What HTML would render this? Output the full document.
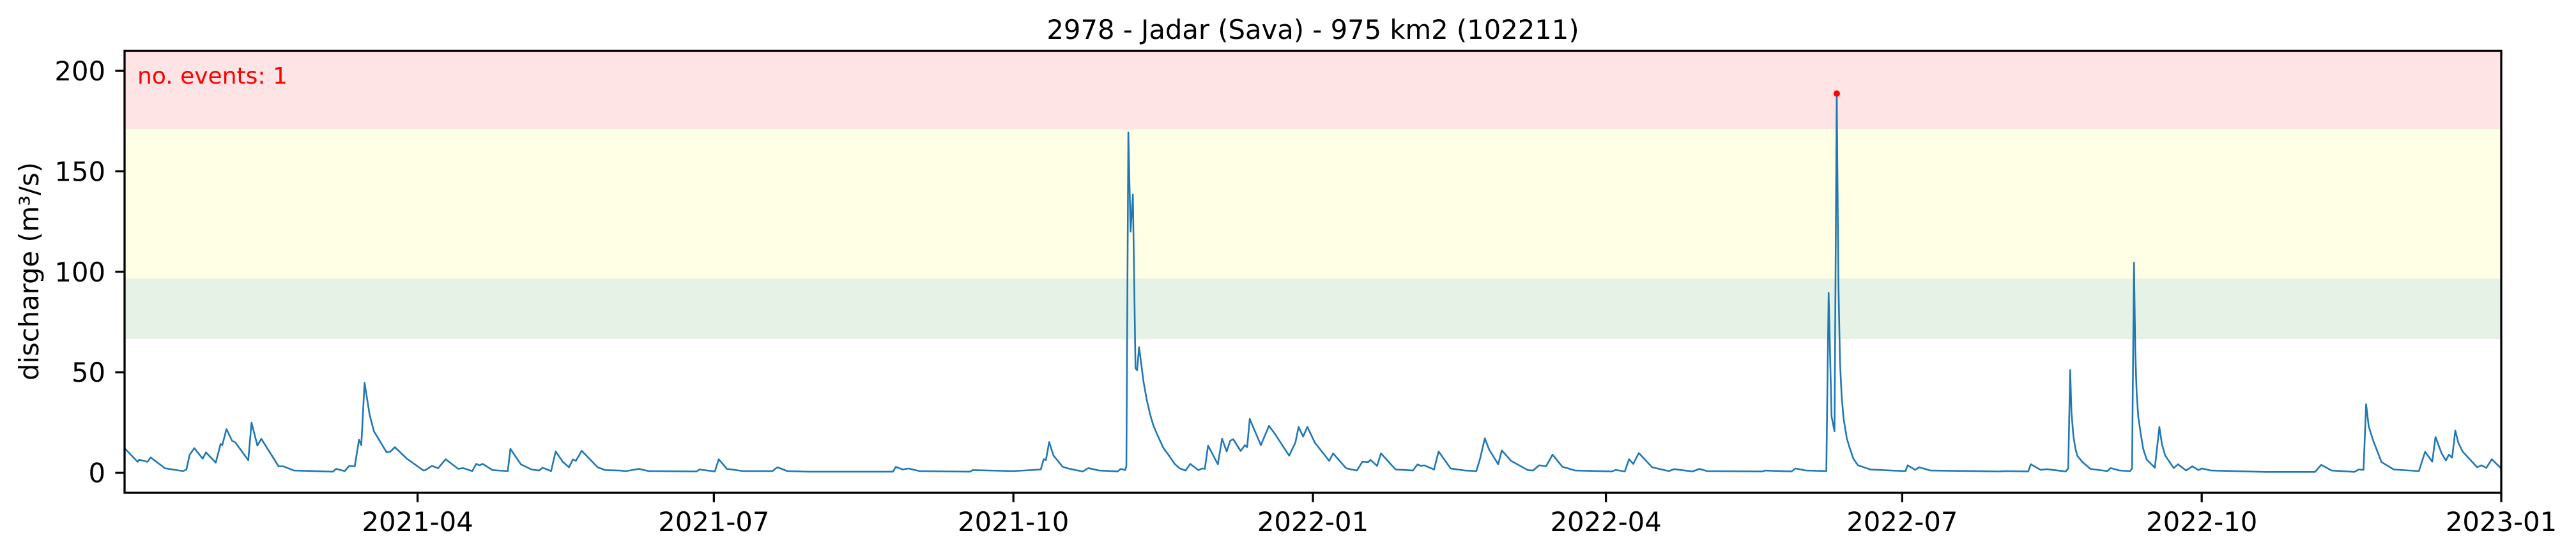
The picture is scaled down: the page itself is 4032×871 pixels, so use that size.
<!DOCTYPE html>
<html><head><meta charset="utf-8"><style>
html,body{margin:0;padding:0;background:#fff;}
svg{display:block;font-family:"DejaVu Sans","Liberation Sans",sans-serif;}
</style></head><body>
<svg id="chart" width="4032" height="871" viewBox="0 0 4032 871" xmlns="http://www.w3.org/2000/svg">
<text x="2055" y="61" font-size="41.7" text-anchor="middle">2978 - Jadar (Sava) - 975 km2 (102211)</text>
<g id="bands"></g>
<g id="series"></g>
<rect x="195" y="79.5" width="3720" height="692.5" fill="none" stroke="#000" stroke-width="3.3"/>
<g id="yaxis"></g>
<g id="xaxis"></g>
<text transform="translate(60,425) rotate(-90)" font-size="41.7" text-anchor="middle">discharge (m³/s)</text>
<text x="215" y="131" font-size="36" fill="#ff0000">no. events: 1</text>
</svg>
<script>
const dayOffsets = [0,4,4.5,7,8,12.4,18,19,20,21.4,24,25,28,29.5,30,31.3,33,34,38,39,40.8,42,47.3,48.7,52,64,65,67.6,69,70.7,72,72.7,73.7,75.3,76.6,80.5,81.7,83,86.7,91.8,92.4,94.4,96.3,98.6,102.5,104,106.8,108,109,110,113,117.7,118.5,121.7,125,127.3,128.4,131,132.4,134.6,136.5,137.7,138.6,140.4,145.3,147.6,152,154,158,161,175.7,176.6,181.3,182.5,185,190,199,200.5,203.6,210,236,236.9,239,240.8,244.2,259.7,260.5,273,281.4,282.3,283,284,285.3,288.1,289.8,294.3,296,299.4,305,306,307.3,307.7,308.3,309,309.7,310.5,311,311.6,313,314,315,316,317.4,319,320.8,322.5,324,325.9,327.3,329.8,331,331.8,332.8,335.8,337.1,338.5,339.6,340.5,342.8,344.1,344.8,345.6,349,351.5,353.2,357.7,358.8,359.6,360.6,362,363.3,365.6,370,371.2,375.2,378.5,380.2,382,382.7,384.7,385.9,390.4,392.6,395.7,397.1,398.3,399.2,402.2,403.6,407.3,411.8,415.2,416.3,417.8,419.1,421.9,423,425.9,431,432.6,434.5,436.6,438.6,441,441.6,445.6,456.8,458,460.8,462.1,463.4,465.1,469.2,474.3,476,481.6,483.7,486.1,503,503.9,512,513.2,516.5,522.7,523.4,524.3,525.2,525.9,526.4,526.9,527.4,528,529,529.8,531,532.4,536.2,542.6,547,547.7,550,551.2,554.7,575.8,577.7,584.7,585.5,588.5,590.4,596.2,597,597.6,598,598.6,599.2,599.8,601.3,603.8,609,610,612.8,616,616.6,617.2,617.6,618,618.5,619.2,620,621.1,623.6,625,625.8,626.8,629.4,630.7,633.2,635.1,637,638,640.9,657.5,672.8,674.7,677.9,684.9,686.2,687.7,688.5,689.3,690.7,693.2,697,704.7,706.6,708.8,709.8,711.7,713,713.9,714.9,715.9,716.8,718.1,722.6,723.9,725.4,727.1,730];
const discharge = [12.2,5.4,6.5,5.4,7.6,2.2,0.8,1.6,9,12.2,7,10.1,5,14.3,13.7,21.7,15.9,15.1,6.2,24.9,13.5,16.9,3.2,3.2,1.1,0.5,1.9,0.8,3.4,3.2,16.4,13.7,44.7,28.6,20.6,10.1,10.6,12.7,7,1.1,1.3,3.4,2.2,6.7,1.9,2.3,0.8,4.4,3.7,4.4,1.3,0.8,11.9,4.2,1.6,1.1,2.5,0.8,10.6,5.4,2.7,6.6,5.9,10.9,2.7,1.3,1.1,0.8,1.9,0.8,0.6,1.6,0.6,6.7,1.9,0.8,0.8,2.7,0.8,0.5,0.5,2.9,1.6,2.1,0.8,0.5,1.3,0.8,1.6,6.7,6.3,15.3,8.6,3,2.1,0.6,2.3,1.1,0.6,1.9,1.3,3,169.3,120,138.4,52,51,62.5,45,36,29,23.5,18.2,12.5,8.5,4.5,2.2,1.1,4.4,1.3,2.1,1.9,13.5,4.2,16.9,10.6,15.9,16.7,10.8,13.7,12.7,26.8,13.7,23.3,19.6,8.5,12.2,14.9,22.8,18,22.8,14.9,5.9,9.6,2.2,1.1,5.5,5.3,6.4,3.4,9.6,1.6,1.4,1.1,4.1,3.4,3.7,1.6,10.6,2.1,1.1,0.8,6.7,17.1,11.6,4.2,11.1,5.9,1.3,1.1,3.7,3.2,9,4.2,3,1.1,0.6,1.4,0.6,6.7,4.4,9.8,2.7,0.8,1.8,0.6,1.9,0.8,0.6,1.1,0.6,2.1,1.1,0.8,89.5,28,20.6,188.7,95,55,38,27,17,12.7,7,3.7,1.6,1.1,0.8,3.7,1.4,2.7,1.1,0.6,0.8,0.6,4.2,1.4,1.8,0.6,2.1,51.1,30,18,12,8.4,5.4,1.9,0.8,2.3,1.1,0.8,2.1,104.5,60,40,28,20,12,6.5,2.5,22.8,14,8.5,2.3,4.2,1.1,3.2,1.3,2.1,1.1,0.4,0.4,3.9,1.1,0.4,1.6,1.4,34.1,23,15.9,5.3,1.6,0.8,10.4,5.5,17.8,9.6,6.1,9,7.5,21,15,10.6,2.7,3.7,2.4,6.7,2.1];
const eventDays = [525.9];
const eventValues = [188.7];
const yTickValues = [0,50,100,150,200];
const yTickLabels = ["0","50","100","150","200"];
const xTickDays = [90,181,273,365,455,546,638,730];
const xTickLabels = ["2021-04","2021-07","2021-10","2022-01","2022-04","2022-07","2022-10","2023-01"];
const bandLower = [66.5,96.6,171];
const bandUpper = [96.6,171,210];
const bandColors = ["#e6f2e6","#ffffe6","#ffe4e6"];
const bandNames = ["band-low","band-medium","band-high"];

const NS="http://www.w3.org/2000/svg";
const X0=195,X1=3915,Y0=79.5,Y1=772,DMIN=0,DMAX=730,VMIN=-10,VMAX=210;
function xScale(d){return X0+(d-DMIN)/(DMAX-DMIN)*(X1-X0);}
function yScale(v){return Y1-(v-VMIN)/(VMAX-VMIN)*(Y1-Y0);}
function mk(tag,attrs,parent){const e=document.createElementNS(NS,tag);for(const k in attrs)e.setAttribute(k,attrs[k]);parent.appendChild(e);return e;}

const bands=document.getElementById('bands');
for(let i=0;i<bandLower.length;i++){
  const r=mk('rect',{x:X0,y:yScale(bandUpper[i]),width:X1-X0,height:yScale(bandLower[i])-yScale(bandUpper[i]),fill:bandColors[i]},bands);
  
  
}
const series=document.getElementById('series');
let pts=dayOffsets.map((d,i)=>xScale(d).toFixed(1)+','+yScale(discharge[i]).toFixed(1)).join(' ');
const line=mk('polyline',{points:pts,fill:'none',stroke:'#1f77b4','stroke-width':2.6,'stroke-linejoin':'round'},series);


for(let i=0;i<eventDays.length;i++){
  const c=mk('circle',{cx:xScale(eventDays[i]),cy:yScale(eventValues[i]),r:5,fill:'#ff0000'},series);
  
  
}
const ya=document.getElementById('yaxis');
yTickValues.forEach((v,i)=>{
  const y=yScale(v);
  const t=mk('line',{x1:X0-14.6,x2:X0,y1:y,y2:y,stroke:'#000','stroke-width':3.3},ya);
  
  
  const l=mk('text',{x:165,y:y+15,'font-size':41.7,'text-anchor':'end'},ya);
  l.textContent=yTickLabels[i];
  
  
});
const xa=document.getElementById('xaxis');
xTickDays.forEach((d,i)=>{
  const x=xScale(d);
  const t=mk('line',{x1:x,x2:x,y1:Y1,y2:Y1+14.6,stroke:'#000','stroke-width':3.3},xa);
  
  
  const l=mk('text',{x:x,y:832,'font-size':41.7,'text-anchor':'middle'},xa);
  l.textContent=xTickLabels[i];
  
  
});
</script>
</body></html>
